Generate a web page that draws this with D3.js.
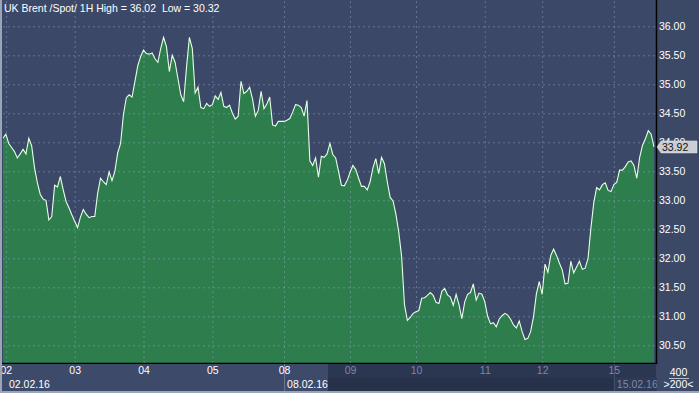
<!DOCTYPE html>
<html><head><meta charset="utf-8">
<script src="https://cdn.jsdelivr.net/npm/d3@7"></script>
<style>
html,body{margin:0;padding:0;background:#3b4866;}
svg{display:block;font-family:"Liberation Sans",Arial,sans-serif;}
</style></head>
<body><svg id="c" width="699" height="393"></svg>
<script>
const title = "UK Brent /Spot/ 1H High = 36.02  Low = 30.32";
const dayLabels = ["02","03","04","05","08","09","10","11","12","15"];
const dayStartIndex = [1,25,49,73,98,121,144,168,188,213];
const dateLabels = ["02.02.16","08.02.16","15.02.16"];
const dateIndex = [1,98,213];
const yTicks = [30.5,31,31.5,32,32.5,33,33.5,34,34.5,35,35.5,36];
const scaleInfo = ["400", ">200<"];
const prices = [
34.07,34.14,33.98,33.91,33.84,33.73,33.80,33.88,33.80,34.07,
33.94,33.56,33.30,33.10,33.02,33.00,32.66,32.72,33.26,33.23,
33.41,33.18,32.98,32.87,32.75,32.64,32.53,32.71,32.84,32.76,
32.70,32.72,32.72,33.12,33.38,33.32,33.27,33.49,33.34,33.50,
33.82,33.98,34.48,34.77,34.82,34.78,35.05,35.32,35.48,35.59,
35.53,35.52,35.54,35.44,35.38,35.62,35.81,35.65,35.22,35.50,
35.38,35.10,34.82,34.70,35.30,35.81,35.62,34.85,34.95,34.60,
34.58,34.67,34.62,34.65,34.80,34.74,34.86,34.62,34.60,34.64,
34.50,34.40,34.45,35.05,34.84,34.88,34.95,34.75,34.45,34.55,
34.88,34.58,34.66,34.78,34.30,34.28,34.36,34.36,34.36,34.38,
34.41,34.52,34.65,34.64,34.60,34.45,34.72,33.68,33.60,33.73,
33.40,33.76,33.74,33.80,33.98,33.79,33.73,33.50,33.26,33.25,
33.34,33.48,33.60,33.53,33.38,33.24,33.24,33.18,33.32,33.56,
33.72,33.46,33.74,33.63,33.32,33.05,32.99,32.76,32.45,32.03,
31.20,30.93,30.98,31.05,31.08,31.10,31.31,31.32,31.36,31.41,
31.36,31.24,31.22,31.43,31.48,31.37,31.33,31.19,31.38,31.20,
30.96,31.25,31.38,31.41,31.56,31.28,31.40,31.38,31.25,31.00,
30.87,30.89,30.82,30.95,31.01,31.05,31.02,30.95,30.85,30.80,
30.92,30.74,30.60,30.62,30.74,31.00,31.39,31.60,31.38,31.90,
31.76,32.05,32.16,32.05,31.92,31.80,31.56,31.57,31.95,31.75,
31.85,31.95,31.81,31.83,32.00,32.52,32.96,33.22,33.18,33.27,
33.30,33.17,33.15,33.27,33.31,33.52,33.52,33.58,33.66,33.68,
33.60,33.38,33.74,33.95,34.06,34.20,34.14,33.92
];

const W = 699, H = 393;
const plotL = 3, plotR = 656, plotT = 0, plotB = 363;
const svg = d3.select("#c");

const x = d3.scaleLinear().domain([0, prices.length - 1]).range([3, 654]);
const y = d3.scaleLinear().domain([30.5, 36]).range([345.3, 26.3]);

// backgrounds
svg.append("rect").attr("x",0).attr("y",0).attr("width",W).attr("height",H).attr("fill","#3b4866");
svg.append("rect").attr("x",plotL).attr("y",plotT).attr("width",plotR-plotL).attr("height",plotB-plotT).attr("fill","#3b4867");

const clip = svg.append("defs").append("clipPath").attr("id","pc");
clip.append("rect").attr("x",plotL).attr("y",plotT).attr("width",plotR-plotL).attr("height",plotB-plotT);

const plot = svg.append("g").attr("clip-path","url(#pc)");

// area
const area = d3.area().x((d,i)=>x(i)).y0(plotB).y1(d=>y(d)).curve(d3.curveLinear);
plot.append("path").datum(prices).attr("d",area).attr("fill","#2e7d4c");

// grid
const gridY = plot.append("g").attr("transform",`translate(${plotL},0)`)
  .call(d3.axisLeft(y).tickValues(yTicks).tickSize(-(plotR-plotL)).tickFormat(""));
gridY.select(".domain").remove();
gridY.selectAll("line").attr("stroke","rgba(150,170,210,0.45)").attr("stroke-dasharray","2,3");

const gridX = plot.append("g").attr("transform",`translate(0,${plotB})`)
  .call(d3.axisBottom(x).tickValues(dayStartIndex).tickSize(-(plotB-plotT)).tickFormat(""));
gridX.select(".domain").remove();
gridX.selectAll("line").attr("stroke","rgba(150,170,210,0.45)").attr("stroke-dasharray","2,3");

// line
const line = d3.line().x((d,i)=>x(i)).y(d=>y(d));
plot.append("path").datum(prices).attr("d",line).attr("fill","none")
  .attr("stroke","#e6ffe6").attr("stroke-width",1.1);

// title
svg.append("text").attr("x",4).attr("y",12).attr("fill","#ffffff")
  .attr("font-size","10.5px").style("white-space","pre").text(title);

// frame lines
svg.append("line").attr("x1",plotR+0.5).attr("x2",plotR+0.5).attr("y1",0).attr("y2",plotB+1).attr("stroke","#000").attr("stroke-width",1.5);
svg.append("line").attr("x1",0).attr("x2",plotR+1).attr("y1",plotB+0.5).attr("y2",plotB+0.5).attr("stroke","#000").attr("stroke-width",1.5);

// right y-axis labels
const yAxis = svg.append("g").attr("transform",`translate(${plotR+2},0)`)
  .call(d3.axisRight(y).tickValues(yTicks).tickSize(0).tickPadding(1).tickFormat(d3.format(".2f")));
yAxis.select(".domain").remove();
yAxis.selectAll("text").attr("fill","#ffffff").attr("font-size","10.5px")
  .attr("font-family","'Liberation Sans',Arial,sans-serif");

// bottom panel
const bp = svg.append("g");
bp.append("rect").attr("x",0).attr("y",plotB+1).attr("width",plotR).attr("height",H-plotB-3).attr("fill","#3d4a69");
const darkStart = 328;
bp.append("rect").attr("x",darkStart).attr("y",plotB+1).attr("width",plotR-darkStart).attr("height",H-plotB-3).attr("fill","#2b3651");
bp.append("rect").attr("x",darkStart).attr("y",378).attr("width",plotR-darkStart).attr("height",H-378-2).attr("fill","#27314a");

const xAxis = svg.append("g").attr("transform",`translate(0,${plotB})`)
  .call(d3.axisBottom(x).tickValues(dayStartIndex).tickSize(0).tickPadding(4)
    .tickFormat((d,i)=>dayLabels[i]));
xAxis.select(".domain").remove();
xAxis.selectAll("text").attr("font-size","10.5px")
  .attr("font-family","'Liberation Sans',Arial,sans-serif")
  .attr("fill",d=>x(d) < darkStart ? "#ffffff" : "#7d89a3");

// date boxes
dateIndex.forEach((di,k)=>{
  const px = x(di);
  const dark = px >= darkStart || k === 2;
  if (k > 0) {
    const bw = 44;
    bp.append("rect").attr("x",px).attr("y",377.5).attr("width",bw).attr("height",13)
      .attr("fill", dark ? "#2e3a56" : "#3d4a69");
    bp.append("line").attr("x1",px+0.5).attr("x2",px+0.5).attr("y1",plotB+1).attr("y2",391)
      .attr("stroke", dark ? "#46536f" : "#6a7795").attr("stroke-width",1);
  }
  bp.append("text").attr("x",k===0 ? 9 : px+3).attr("y",388)
    .attr("font-size","10.5px").attr("fill", dark ? "#7d89a3" : "#ffffff")
    .text(dateLabels[k]);
});

// bottom-right box
const br = svg.append("g");
br.append("rect").attr("x",plotR+1).attr("y",plotB+1).attr("width",W-plotR-1).attr("height",H-plotB-3).attr("fill","#3b4866");
br.append("text").attr("x",(plotR+W)/2+1).attr("y",376).attr("text-anchor","middle").attr("font-size","10.5px").attr("fill","#ffffff").text(scaleInfo[0]);
br.append("line").attr("x1",669).attr("x2",689).attr("y1",378.5).attr("y2",378.5).attr("stroke","#b8c0d0");
br.append("text").attr("x",(plotR+W)/2+1).attr("y",388).attr("text-anchor","middle").attr("font-size","10.5px").attr("fill","#ffffff").text(scaleInfo[1]);

// outer light edges
svg.append("rect").attr("x",0).attr("y",0).attr("width",2).attr("height",H).attr("fill","#9ca5b8");
svg.append("rect").attr("x",0).attr("y",H-2).attr("width",W).attr("height",2).attr("fill","#9ca5b8");

// last price tag
const last = prices[prices.length-1];
const ty = y(last);
const tag = svg.append("g");
tag.append("path").attr("d",`M${plotR+1},${ty} L${plotR+5},${ty-6} L${W-2},${ty-6} L${W-2},${ty+6} L${plotR+5},${ty+6} Z`)
  .attr("fill","#c9cdd6").attr("stroke","#e8eaf0").attr("stroke-width",0.5);
tag.append("text").attr("x",plotR+6).attr("y",ty+4).attr("font-size","10.5px").attr("fill","#111").text(last.toFixed(2));
</script></body></html>
